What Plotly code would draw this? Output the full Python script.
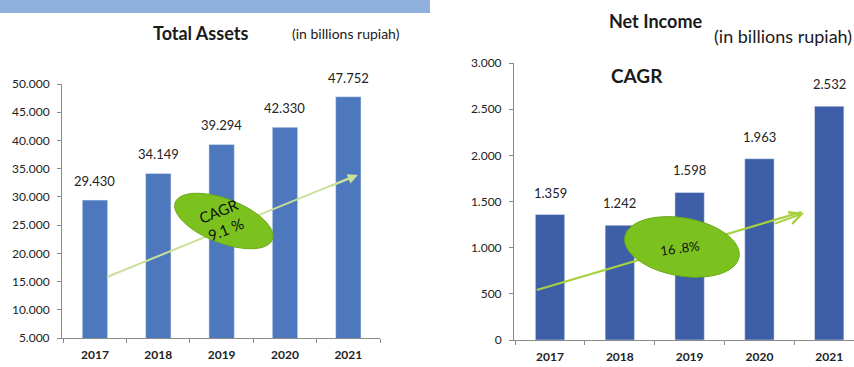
import numpy as np
import plotly.graph_objects as go

years = ["2017", "2018", "2019", "2020", "2021"]
total_assets = [29430, 34149, 39294, 42330, 47752]
net_income = [1359, 1242, 1598, 1963, 2532]
assets_ticks = [5000, 10000, 15000, 20000, 25000, 30000, 35000, 40000, 45000, 50000]
income_ticks = [0, 500, 1000, 1500, 2000, 2500, 3000]
cagr_assets = "CAGR<br>9.1 %"
cagr_income = "16 .8%"

FONT = "Lato"
W, H = 854, 367
bar_left = "#4d78bd"
bar_right = "#3e5ea8"
green = "#7cc21f"


def ellipse_path(a, b, ang_deg, n=72):
    t = np.linspace(0, 2 * np.pi, n, endpoint=False)
    th = np.deg2rad(-ang_deg)
    xs = a * np.cos(t) * np.cos(th) - b * np.sin(t) * np.sin(th)
    ys = a * np.cos(t) * np.sin(th) + b * np.sin(t) * np.cos(th)
    pts = [f"{x:.2f},{y:.2f}" for x, y in zip(xs, ys)]
    return "M " + " L ".join(pts) + " Z"


fig = go.Figure()
fig.add_trace(go.Bar(x=years, y=total_assets, marker_color=bar_left, width=0.4,
                     xaxis="x", yaxis="y", showlegend=False, hoverinfo="x+y"))
fig.add_trace(go.Bar(x=years, y=net_income, marker_color=bar_right, width=0.42,
                     xaxis="x2", yaxis="y2", showlegend=False, hoverinfo="x+y"))

axis_common = dict(showline=True, linecolor="#8a8a8a", linewidth=1, ticks="outside",
                   ticklen=4, tickcolor="#8a8a8a", showgrid=False, zeroline=False,
                   fixedrange=True, automargin=False)

fig.update_layout(
    width=W, height=H, autosize=False, margin=dict(l=0, r=0, t=0, b=0, pad=0),
    paper_bgcolor="white", plot_bgcolor="rgba(0,0,0,0)",
    separators=",.",
    font=dict(family=FONT, color="#1e1e1e"),
    xaxis=dict(domain=[62 / W, 380 / W], type="category", range=[-0.52, 4.5],
               tickson="boundaries", anchor="y", ticklabelstandoff=6,
               tickfont=dict(size=12, family=FONT, weight="bold", color="#222"), **axis_common),
    yaxis=dict(domain=[(H - 338) / H, (H - 84) / H], range=[5000, 50000], tickvals=assets_ticks,
               tickformat=",d", anchor="x", ticklabelstandoff=5,
               tickfont=dict(size=12, family=FONT, color="#222"), **axis_common),
    xaxis2=dict(domain=[514 / W, 1.0], type="category", range=[-0.516, 4.355],
                tickson="boundaries", anchor="y2", ticklabelstandoff=6,
                tickfont=dict(size=12, family=FONT, weight="bold", color="#222"), **axis_common),
    yaxis2=dict(domain=[(H - 340) / H, (H - 63) / H], range=[0, 3000], tickvals=income_ticks,
                tickformat=",d", anchor="x2", ticklabelstandoff=5,
                tickfont=dict(size=12, family=FONT, color="#222"), **axis_common),
    bargap=0.6,
)

shapes = []
# header band
shapes.append(dict(type="rect", xref="paper", yref="paper", x0=0, x1=430 / W,
                   y0=1 - 13 / H, y1=1, fillcolor="#8fb0dc", line_width=0, layer="below"))
# arrow lines
shapes.append(dict(type="line", xref="x", yref="y", x0=0.19, y0=15800, x1=4.12, y1=33800,
                   line=dict(color="#c9e09a", width=2), layer="above"))
shapes.append(dict(type="line", xref="x2", yref="y2", x0=-0.19, y0=541, x1=3.6, y1=1385,
                   line=dict(color="#a6d03e", width=2.2), layer="above"))
# ellipses
shapes.append(dict(type="path", xref="x", yref="y", xsizemode="pixel", ysizemode="pixel",
                   xanchor=2.035, yanchor=25730, path=ellipse_path(52, 22, 21),
                   fillcolor=green, line=dict(color="#6aa816", width=1), layer="above"))
shapes.append(dict(type="path", xref="x2", yref="y2", xsizemode="pixel", ysizemode="pixel",
                   xanchor=1.89, yanchor=1008, path=ellipse_path(58, 29, 10),
                   fillcolor=green, line=dict(color="#6aa816", width=1), layer="above"))
fig.update_layout(shapes=shapes)

ann = []
# data labels
for i, v in enumerate(total_assets):
    ann.append(dict(x=i, y=v, xref="x", yref="y", text=f"{v:,}".replace(",", "."),
                    showarrow=False, xanchor="center", yanchor="bottom", yshift=9,
                    font=dict(size=13, family=FONT, color="#222")))
for i, v in enumerate(net_income):
    ann.append(dict(x=i, y=v, xref="x2", yref="y2", text=f"{v:,}".replace(",", "."),
                    showarrow=False, xanchor="center", yanchor="bottom", yshift=12,
                    font=dict(size=13, family=FONT, color="#222")))
# arrowheads
ann.append(dict(x=4.15, y=33880, ax=3.7, ay=31800, xref="x", yref="y", axref="x", ayref="y",
                text="", showarrow=True, arrowhead=2, arrowsize=1, arrowwidth=2,
                arrowcolor="#c9e09a"))
ann.append(dict(x=3.64, y=1376, ax=3.2, ay=1255, xref="x2", yref="y2", axref="x2", ayref="y2",
                text="", showarrow=True, arrowhead=5, arrowsize=1.2, arrowwidth=2,
                arrowcolor="#a6d03e"))
# ellipse texts
ann.append(dict(x=2.02, y=25900, xref="x", yref="y", text=cagr_assets, showarrow=False,
                xanchor="center", yanchor="middle",
                textangle=-22, font=dict(size=15, family=FONT, color="#111")))
ann.append(dict(x=1.86, y=1000, xref="x2", yref="y2", text=cagr_income, showarrow=False,
                xanchor="center", yanchor="middle",
                textangle=-8, font=dict(size=13, family=FONT, color="#111")))
# titles
titles = [
    (200, 33, "<b>Total Assets</b>", 18),
    (346, 33, "(in billions rupiah)", 14),
    (655, 21, "<b>Net Income</b>", 18),
    (783, 36, "(in billions rupiah)", 18),
    (637, 75, "<b>CAGR</b>", 19),
]
for px, py, txt, sz in titles:
    ann.append(dict(x=px / W, y=1 - py / H, xref="paper", yref="paper", text=txt,
                    showarrow=False, xanchor="center", yanchor="middle",
                    font=dict(size=sz, family=FONT, color="#1a1a1a")))
fig.update_layout(annotations=ann)

fig.write_html("out.html", config={"responsive": False, "displayModeBar": False})
